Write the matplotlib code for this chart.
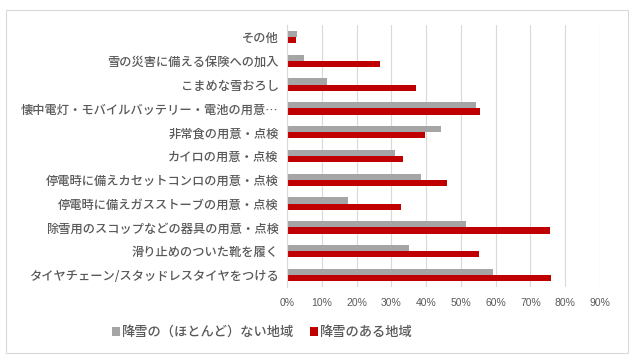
import matplotlib
matplotlib.use("Agg")
import matplotlib.pyplot as plt
import numpy as np
from matplotlib.patches import Rectangle

plt.rcParams['font.family'] = ['Noto Sans CJK JP', 'DejaVu Sans']

categories = [
    "その他",
    "雪の災害に備える保険への加入",
    "こまめな雪おろし",
    "懐中電灯・モバイルバッテリー・電池の用意…",
    "非常食の用意・点検",
    "カイロの用意・点検",
    "停電時に備えカセットコンロの用意・点検",
    "停電時に備えガスストーブの用意・点検",
    "除雪用のスコップなどの器具の用意・点検",
    "滑り止めのついた靴を履く",
    "タイヤチェーン/スタッドレスタイヤをつける",
]
no_snow = [2.9, 5.0, 11.4, 54.3, 44.2, 31.0, 38.4, 17.5, 51.5, 35.2, 59.2]
snow = [2.7, 26.7, 37.1, 55.6, 39.8, 33.5, 45.9, 32.7, 75.5, 55.2, 75.8]
series_names = ["降雪の（ほとんど）ない地域", "降雪のある地域"]
xticks = [0, 10, 20, 30, 40, 50, 60, 70, 80, 90]

GRAY = "#A5A5A5"
RED = "#C00000"
TXT = "#595959"

fig = plt.figure(figsize=(6.38, 3.63), dpi=100)
ax = fig.add_axes([0.4498, 0.2094, 0.4906, 0.7216])

n = len(categories)
y = np.arange(n)[::-1]
h = 0.26
ax.barh(y + h / 2, no_snow, height=h, color=GRAY, label=series_names[0], zorder=3)
ax.barh(y - h / 2, snow, height=h, color=RED, label=series_names[1], zorder=3)

ax.set_xlim(0, 90)
ax.set_ylim(-0.5, n - 0.5)
ax.set_xticks(xticks)
ax.set_xticklabels([f"{t}%" for t in xticks], fontsize=7.5, color=TXT,
                   family=['Liberation Sans Narrow', 'Liberation Sans', 'DejaVu Sans'])
ax.set_yticks(y)
ax.set_yticklabels(categories, fontsize=8.8, color=TXT, fontweight=500)
ax.tick_params(axis='both', length=0)
ax.tick_params(axis='y', pad=6)
ax.tick_params(axis='x', pad=8)
ax.grid(axis='x', color="#D9D9D9", linewidth=0.8, zorder=0)
for s in ['top', 'right', 'bottom']:
    ax.spines[s].set_visible(False)
ax.spines['left'].set_color("#D9D9D9")
ax.spines['left'].set_linewidth(0.8)
ax.spines['left'].set_zorder(4)

leg = fig.legend(loc='center', bbox_to_anchor=(262 / 638, 1 - 332 / 363), ncol=2,
                 frameon=False, fontsize=9.5, handlelength=0.6, handleheight=0.6,
                 handletextpad=0.15, columnspacing=1.2, labelcolor=TXT,
                 prop={'size': 9.5, 'weight': 500})

fig.patches.append(Rectangle((6 / 638, 1 - 353 / 363), 622 / 638, 343 / 363,
                             transform=fig.transFigure, fill=False,
                             edgecolor="#D9D9D9", linewidth=0.8))

fig.savefig("out.png", dpi=100)
